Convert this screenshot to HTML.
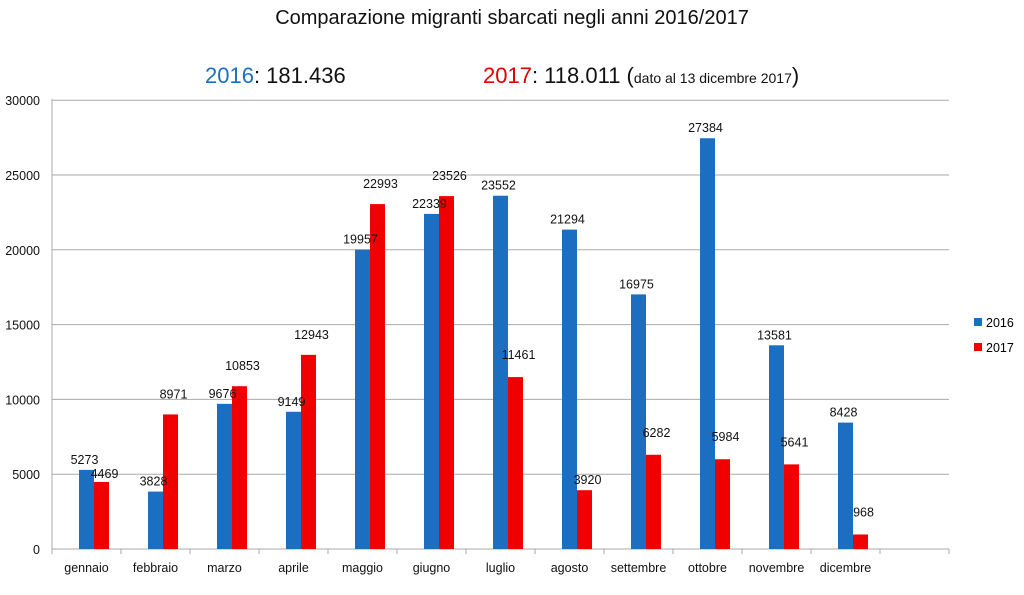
<!DOCTYPE html>
<html><head><meta charset="utf-8"><style>
body{margin:0;background:#fff;width:1024px;height:590px;overflow:hidden}
svg text{font-family:"Liberation Sans",sans-serif}
</style></head><body>
<svg width="1024" height="590" viewBox="0 0 1024 590">
<text x="512" y="24" font-size="20" text-anchor="middle" fill="#111">Comparazione migranti sbarcati negli anni 2016/2017</text>
<text y="83" font-size="22" fill="#111"><tspan x="205" fill="#1c6fc0">2016</tspan><tspan>: 181.436</tspan><tspan x="483" fill="#e00000">2017</tspan><tspan>: 118.011 (</tspan><tspan font-size="14">dato al 13 dicembre 2017</tspan><tspan>)</tspan></text>
<g id="g"></g>
</svg>
<script>
var g=document.getElementById('g'),s='';
var b=[5273,3828,9676,9149,19957,22339,23552,21294,16975,27384,13581,8428];
var r=[4469,8971,10853,12943,22993,23526,11461,3920,6282,5984,5641,968];
var m=["gennaio","febbraio","marzo","aprile","maggio","giugno","luglio","agosto","settembre","ottobre","novembre","dicembre"];
function Y(v){return 549-v*0.015;}
for(var i=0;i<=6;i++){var y=549-i*74.8;
 s+='<line x1="52" x2="949" y1="'+y+'" y2="'+y+'" stroke="#aaa" stroke-width="1"/>';
 s+='<text x="40" y="'+(y+5)+'" font-size="12.5" text-anchor="end" fill="#111">'+(i*5000)+'</text>';}
s+='<line x1="52" x2="52" y1="99" y2="549" stroke="#aaa"/>';
for(var i=0;i<=13;i++){var x=52+i*69;s+='<line x1="'+x+'" x2="'+x+'" y1="549" y2="554" stroke="#aaa"/>';}
for(var i=0;i<12;i++){var c=52+i*69+34.5;
 s+='<rect x="'+(c-7.5)+'" y="'+Y(b[i])+'" width="15" height="'+(b[i]*0.015)+'" fill="#1c6fc0"/>';
 s+='<rect x="'+(c+7.5)+'" y="'+Y(r[i])+'" width="15" height="'+(r[i]*0.015)+'" fill="#f00000"/>';
 s+='<text x="'+(c-2)+'" y="'+(Y(b[i])-6)+'" font-size="12.5" text-anchor="middle" fill="#111">'+b[i]+'</text>';
 s+='<text x="'+(c+18)+'" y="'+(Y(r[i])-(i==0?4:i<6?16:i==7?6:18))+'" font-size="12.5" text-anchor="middle" fill="#111">'+r[i]+'</text>';
 s+='<text x="'+c+'" y="572" font-size="12.5" text-anchor="middle" fill="#111">'+m[i]+'</text>';}
s+='<rect x="974" y="318" width="8" height="8" fill="#1c6fc0"/><text x="986" y="327" font-size="12.5">2016</text>';
s+='<rect x="974" y="343" width="8" height="8" fill="#f00000"/><text x="986" y="352" font-size="12.5">2017</text>';
g.innerHTML=s;
</script>
</body></html>
